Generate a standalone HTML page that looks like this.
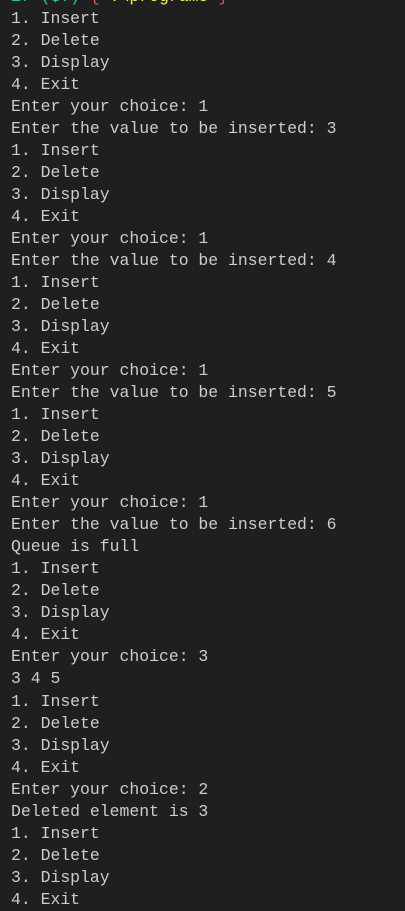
<!DOCTYPE html>
<html><head><style>
html,body{margin:0;padding:0;background:#1f1f1f;width:405px;height:895px;overflow:hidden}
pre{margin:0;position:absolute;left:11px;top:-14px;font-family:"Liberation Mono",monospace;font-size:16.45px;line-height:22.02px;color:#cccccc}
.g{color:#23d18b}.y{color:#f5f543}.r{color:#f14c4c}
</style></head><body>
<pre><span class="g">if ($?) </span><span class="r">{</span> <span class="y">.\programs</span> <span class="r">}</span>
1. Insert
2. Delete
3. Display
4. Exit
Enter your choice: 1
Enter the value to be inserted: 3
1. Insert
2. Delete
3. Display
4. Exit
Enter your choice: 1
Enter the value to be inserted: 4
1. Insert
2. Delete
3. Display
4. Exit
Enter your choice: 1
Enter the value to be inserted: 5
1. Insert
2. Delete
3. Display
4. Exit
Enter your choice: 1
Enter the value to be inserted: 6
Queue is full
1. Insert
2. Delete
3. Display
4. Exit
Enter your choice: 3
3 4 5
1. Insert
2. Delete
3. Display
4. Exit
Enter your choice: 2
Deleted element is 3
1. Insert
2. Delete
3. Display
4. Exit</pre>
</body></html>
